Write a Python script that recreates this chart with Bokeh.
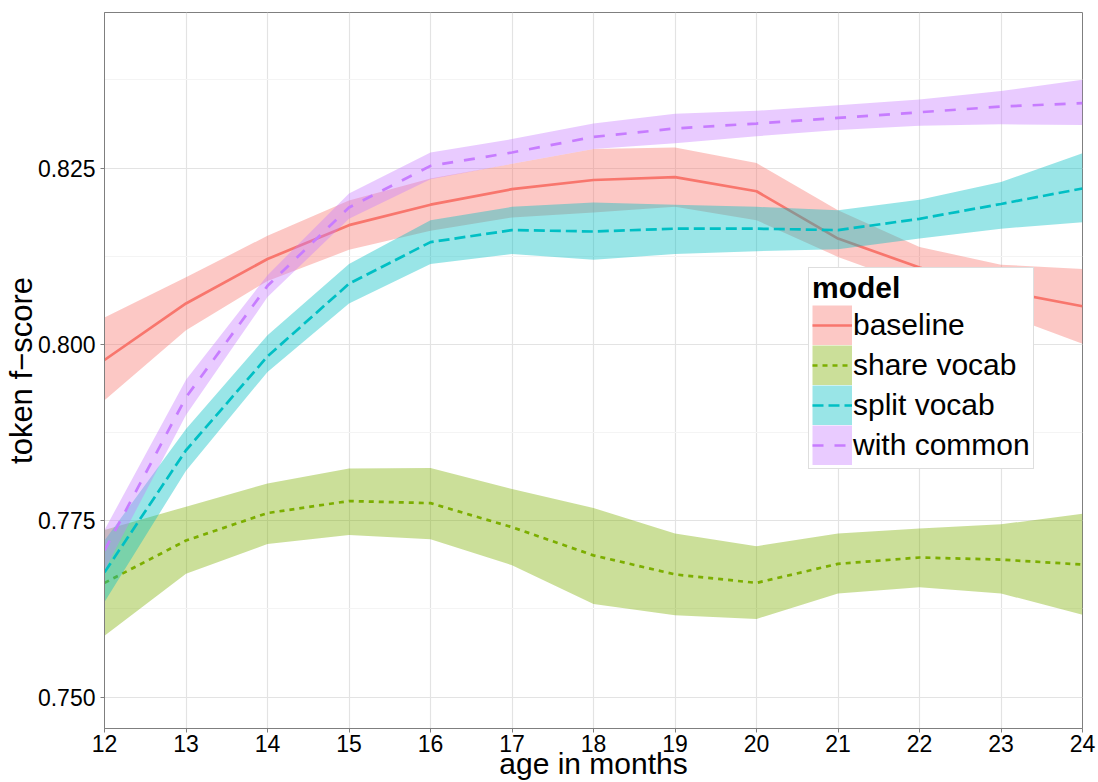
import numpy as np
from bokeh.plotting import figure
from bokeh.models import (Range1d, FixedTicker, Legend, LegendItem,
                          ColumnDataSource, NumeralTickFormatter)
from bokeh.embed import file_html
from bokeh.resources import INLINE

# ---------------- data ----------------
ages = [12, 13, 14, 15, 16, 17, 18, 19, 20, 21, 22, 23, 24]

baseline_mean = [0.7978, 0.8058, 0.8121, 0.8169, 0.8198, 0.8220, 0.8233, 0.8237, 0.8217, 0.8150, 0.8109, 0.8076, 0.8054]
baseline_upper = [0.8038, 0.8095, 0.8154, 0.8204, 0.8235, 0.8256, 0.8277, 0.8279, 0.8257, 0.8190, 0.8138, 0.8113, 0.8107]
baseline_lower = [0.7921, 0.8020, 0.8090, 0.8134, 0.8161, 0.8180, 0.8187, 0.8195, 0.8176, 0.8124, 0.8082, 0.8044, 0.8001]

share_mean = [0.7662, 0.7722, 0.7761, 0.7778, 0.7775, 0.7741, 0.7701, 0.7674, 0.7662, 0.7689, 0.7698, 0.7695, 0.7688]
share_upper = [0.7737, 0.7770, 0.7803, 0.7824, 0.7825, 0.7795, 0.7768, 0.7732, 0.7714, 0.7732, 0.7739, 0.7745, 0.7760]
share_lower = [0.7587, 0.7675, 0.7717, 0.7730, 0.7724, 0.7687, 0.7632, 0.7616, 0.7611, 0.7647, 0.7656, 0.7647, 0.7617]

split_mean = [0.7677, 0.7850, 0.7983, 0.8086, 0.8145, 0.8162, 0.8160, 0.8164, 0.8164, 0.8162, 0.8178, 0.8199, 0.8221]
split_upper = [0.7722, 0.7880, 0.8013, 0.8114, 0.8176, 0.8195, 0.8201, 0.8198, 0.8195, 0.8190, 0.8205, 0.8230, 0.8271]
split_lower = [0.7635, 0.7821, 0.7961, 0.8058, 0.8114, 0.8128, 0.8120, 0.8128, 0.8132, 0.8135, 0.8150, 0.8164, 0.8173]

common_mean = [0.7708, 0.7925, 0.8083, 0.8194, 0.8253, 0.8272, 0.8294, 0.8306, 0.8313, 0.8321, 0.8329, 0.8337, 0.8342]
common_upper = [0.7737, 0.7950, 0.8098, 0.8214, 0.8272, 0.8291, 0.8313, 0.8327, 0.8331, 0.8339, 0.8347, 0.8359, 0.8375]
common_lower = [0.7680, 0.7900, 0.8067, 0.8178, 0.8234, 0.8256, 0.8277, 0.8285, 0.8295, 0.8304, 0.8310, 0.8312, 0.8311]

model_names = ["baseline", "share vocab", "split vocab", "with common"]
x_ticks = [12, 13, 14, 15, 16, 17, 18, 19, 20, 21, 22, 23, 24]
y_ticks = [0.750, 0.775, 0.800, 0.825]
y_minor_ticks = [0.7625, 0.7875, 0.8125, 0.8375]

# ---------------- styles ----------------
colors = ["#F8766D", "#7CAE00", "#00BFC4", "#C77CFF"]
dashes = ["solid", "5 5", "11 5", "11 11"]
FONT = "Liberation Sans"

p = figure(width=1098, height=782, output_backend="svg", toolbar_location=None,
           x_range=Range1d(12, 24), y_range=Range1d(0.745564, 0.847038),
           min_border_left=103, min_border_right=16, min_border_top=12,
           min_border_bottom=54)
p.background_fill_color = "white"
p.border_fill_color = "white"
p.outline_line_color = "#7f7f7f"
p.outline_line_width = 1

p.xaxis.ticker = FixedTicker(ticks=x_ticks)
p.yaxis.ticker = FixedTicker(ticks=y_ticks, minor_ticks=y_minor_ticks)
p.yaxis.formatter = NumeralTickFormatter(format="0.000")

for ax in (p.xaxis[0], p.yaxis[0]):
    ax.major_tick_out = 4
    ax.major_tick_in = 0
    ax.major_tick_line_color = "#7f7f7f"
    ax.minor_tick_line_color = None
    ax.axis_line_color = "#7f7f7f"
    ax.major_label_text_font = FONT
    ax.major_label_text_font_size = "23px"
    ax.major_label_text_color = "black"
    ax.axis_label_text_font = FONT
    ax.axis_label_text_font_style = "normal"
    ax.axis_label_text_color = "black"

p.xaxis.major_label_standoff = 2
p.xaxis.axis_label = "age in months"
p.xaxis.axis_label_text_font_size = "30px"
p.xaxis.axis_label_standoff = -8

p.yaxis.major_label_standoff = 5
p.yaxis.axis_label = "token f\u2212score"
p.yaxis.axis_label_text_font_size = "31px"
p.yaxis.axis_label_standoff = -4

p.xgrid.grid_line_color = "#e3e3e3"
p.xgrid.grid_line_width = 1.2
p.ygrid.grid_line_color = "#e3e3e3"
p.ygrid.grid_line_width = 1.2
p.ygrid.minor_grid_line_color = "#f4f4f4"
p.ygrid.minor_grid_line_width = 1

series = [
    (baseline_mean, baseline_lower, baseline_upper),
    (share_mean, share_lower, share_upper),
    (split_mean, split_lower, split_upper),
    (common_mean, common_lower, common_upper),
]

items = []
for name, (mean, lo, hi), color, dash in zip(model_names, series, colors, dashes):
    src = ColumnDataSource(dict(x=ages, mean=mean, lo=lo, hi=hi))
    p.varea(x="x", y1="lo", y2="hi", source=src, fill_color=color, fill_alpha=0.4)
    ln = p.line(x="x", y="mean", source=src, line_color=color, line_width=2.7,
                line_dash=dash)
    # legend key: a wide translucent stroke filling the key box (NaN -> nothing in plot)
    key = p.line(x=np.array([np.nan]), y=np.array([np.nan]), line_color=color,
                 line_alpha=0.4, line_width=40)
    items.append(LegendItem(label=name, renderers=[key, ln]))

legend = Legend(items=items, location=(704, 259), title="model",
                title_text_font=FONT, title_text_font_style="bold",
                title_text_font_size="30px", title_text_color="black",
                title_standoff=0,
                label_text_font=FONT, label_text_font_size="30px",
                label_text_color="black",
                glyph_width=40, glyph_height=40, label_height=40, spacing=0,
                padding=3, margin=0, label_standoff=1,
                border_line_color="#bdbdbd", border_line_width=1,
                background_fill_color="white", background_fill_alpha=1)
p.add_layout(legend)

open("out.html", "w").write(file_html(p, INLINE))
